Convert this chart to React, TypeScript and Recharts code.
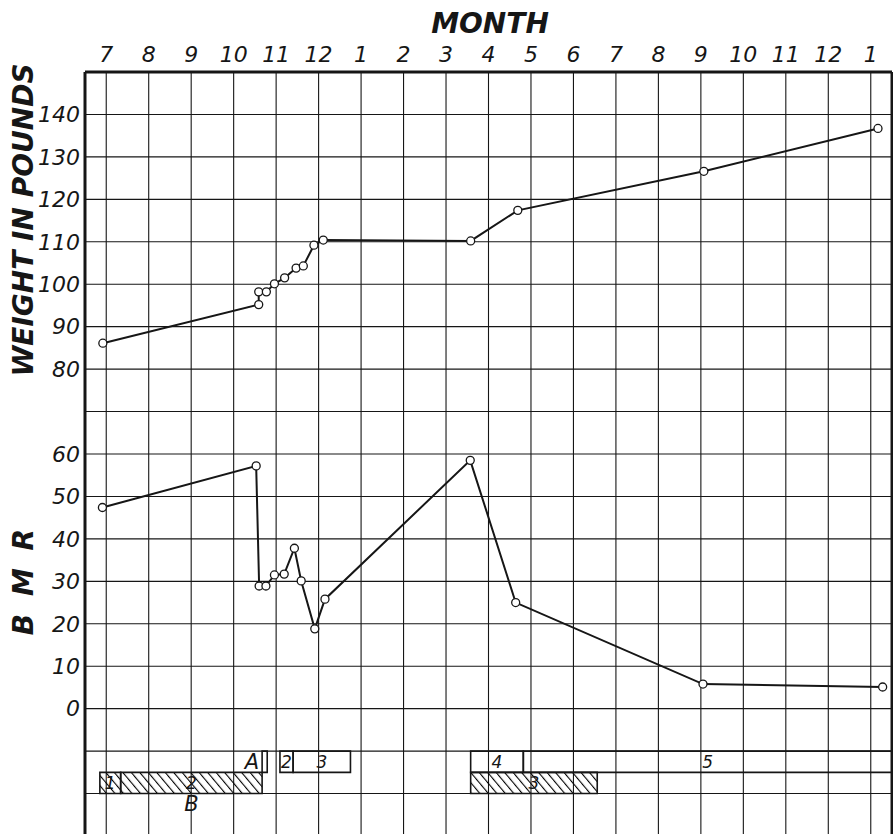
import React from 'react';
import { ComposedChart, Line, XAxis, YAxis, CartesianGrid, ReferenceArea, ReferenceLine, Label } from 'recharts';

// months counted from the first July line (0) to the last January line (18)
const monthLabels = ['7', '8', '9', '10', '11', '12', '1', '2', '3', '4', '5', '6', '7', '8', '9', '10', '11', '12', '1'];
const monthTicks = [0, 1, 2, 3, 4, 5, 6, 7, 8, 9, 10, 11, 12, 13, 14, 15, 16, 17, 18];

// one scale for both panels: weight in pounds on top, BMR below
const valueTicks = [-30, -20, -10, 0, 10, 20, 30, 40, 50, 60, 70, 80, 90, 100, 110, 120, 130, 140, 150];
const labelledTicks = [0, 10, 20, 30, 40, 50, 60, 80, 90, 100, 110, 120, 130, 140];

const weightMonths = [-0.08, 3.59, 3.59, 3.77, 3.96, 4.2, 4.47, 4.64, 4.89, 5.11, 8.58, 9.69, 14.07, 18.17];
const weightPounds = [86.1, 95.2, 98.2, 98.2, 100.1, 101.5, 103.8, 104.3, 109.2, 110.4, 110.2, 117.4, 126.6, 136.7];

const bmrMonths = [-0.09, 3.53, 3.6, 3.76, 3.96, 4.19, 4.43, 4.59, 4.91, 5.15, 8.57, 9.64, 14.05, 18.28];
const bmrValues = [47.4, 57.2, 28.9, 28.9, 31.5, 31.7, 37.8, 30.1, 18.8, 25.8, 58.5, 25.0, 5.8, 5.1];

// treatment periods drawn under the BMR panel
const periodNames = ['1', '2', '', '2', '3', '4', '5', '3'];
const periodStarts = [-0.15, 0.34, 3.67, 4.09, 4.4, 8.58, 9.82, 8.58];
const periodEnds = [0.34, 3.67, 3.79, 4.4, 5.75, 9.82, 18.5, 11.56];
const periodRows = ['lower', 'lower', 'upper', 'upper', 'upper', 'upper', 'upper', 'lower'];
const periodHatched = [true, true, false, false, false, false, false, true];
const periodSideLabels = ['', 'B', 'A', '', '', '', '', ''];

const upperRow = [-15, -10];
const lowerRow = [-20, -15];

const ink = '#161616';
const numFont = 'DejaVu Sans';

const weightData = weightMonths.map((m, i) => ({ m, v: weightPounds[i] }));
const bmrData = bmrMonths.map((m, i) => ({ m, v: bmrValues[i] }));

const tickStyle = { fill: ink, fontSize: 22, fontStyle: 'italic', fontFamily: numFont };
const dotStyle = { r: 4, fill: '#fff', stroke: ink, strokeWidth: 1.3 };

const titleStyle: React.CSSProperties = {
  position: 'absolute',
  fontFamily: 'DejaVu Sans',
  fontWeight: 'bold',
  fontStyle: 'italic',
  fontSize: 28,
  color: ink,
  whiteSpace: 'nowrap',
  lineHeight: 1,
};

export default function App() {
  return (
    <div style={{ position: 'fixed', left: 0, top: 0, width: 893, height: 834, overflow: 'hidden', background: '#fff' }}>
      <ComposedChart width={893} height={836} margin={{ top: 0, right: 1, left: 0, bottom: 0 }}>
        <defs>
          <pattern id="hatch" patternUnits="userSpaceOnUse" width="6.5" height="6.5" patternTransform="rotate(-40)">
            <line x1="0" y1="0" x2="0" y2="6.5" stroke="#000" strokeWidth="2.2" />
          </pattern>
        </defs>
        <CartesianGrid stroke={ink} strokeWidth={1.1} />
        <XAxis
          xAxisId={0}
          orientation="top"
          type="number"
          dataKey="m"
          domain={[-0.5, 18.5]}
          ticks={monthTicks}
          interval={0}
          tickFormatter={(v: number) => monthLabels[v]}
          tick={tickStyle}
          tickLine={false}
          tickSize={0}
          tickMargin={10}
          axisLine={{ stroke: ink, strokeWidth: 3 }}
          height={72}
          allowDataOverflow
        />
        <YAxis
          yAxisId={0}
          type="number"
          domain={[-30, 150]}
          ticks={valueTicks}
          interval={0}
          tickFormatter={(v: number) => (labelledTicks.includes(v) ? String(v) : '')}
          tick={tickStyle}
          tickLine={false}
          tickSize={0}
          tickMargin={5}
          axisLine={{ stroke: ink, strokeWidth: 3 }}
          width={85}
          allowDataOverflow
        />
        <ReferenceLine x={18.5} stroke={ink} strokeWidth={3} />
        {periodNames.map((name, i) => {
          const row = periodRows[i] === 'upper' ? upperRow : lowerRow;
          const side = periodSideLabels[i];
          return (
            <ReferenceArea
              key={i}
              x1={periodStarts[i]}
              x2={periodEnds[i]}
              y1={row[0]}
              y2={row[1]}
              fill={periodHatched[i] ? 'url(#hatch)' : 'none'}
              fillOpacity={1}
              stroke={ink}
              strokeWidth={1.6}
            >
              {name ? (
                <Label value={name} position="center" fill={ink} fontSize={17} fontStyle="italic" fontFamily={numFont} />
              ) : null}
              {side === 'A' ? (
                <Label value="A" position="left" offset={3} fill={ink} fontSize={21} fontStyle="italic" fontFamily={numFont} />
              ) : null}
              {side === 'B' ? (
                <Label value="B" position="bottom" offset={3} fill={ink} fontSize={21} fontStyle="italic" fontFamily={numFont} />
              ) : null}
            </ReferenceArea>
          );
        })}
        <Line
          data={weightData}
          dataKey="v"
          type="linear"
          stroke={ink}
          strokeWidth={2}
          dot={dotStyle}
          activeDot={false}
          isAnimationActive={false}
        />
        <Line
          data={bmrData}
          dataKey="v"
          type="linear"
          stroke={ink}
          strokeWidth={2}
          dot={dotStyle}
          activeDot={false}
          isAnimationActive={false}
        />
      </ComposedChart>
      <div style={{ ...titleStyle, left: 490, top: 24, transform: 'translate(-50%, -50%)' }}>MONTH</div>
      <div style={{ ...titleStyle, left: 24, top: 220, transform: 'translate(-50%, -50%) rotate(-90deg)' }}>
        WEIGHT IN POUNDS
      </div>
      <div style={{ ...titleStyle, left: 24, top: 580, letterSpacing: 4, transform: 'translate(-50%, -50%) rotate(-90deg)' }}>
        B M R
      </div>
    </div>
  );
}
